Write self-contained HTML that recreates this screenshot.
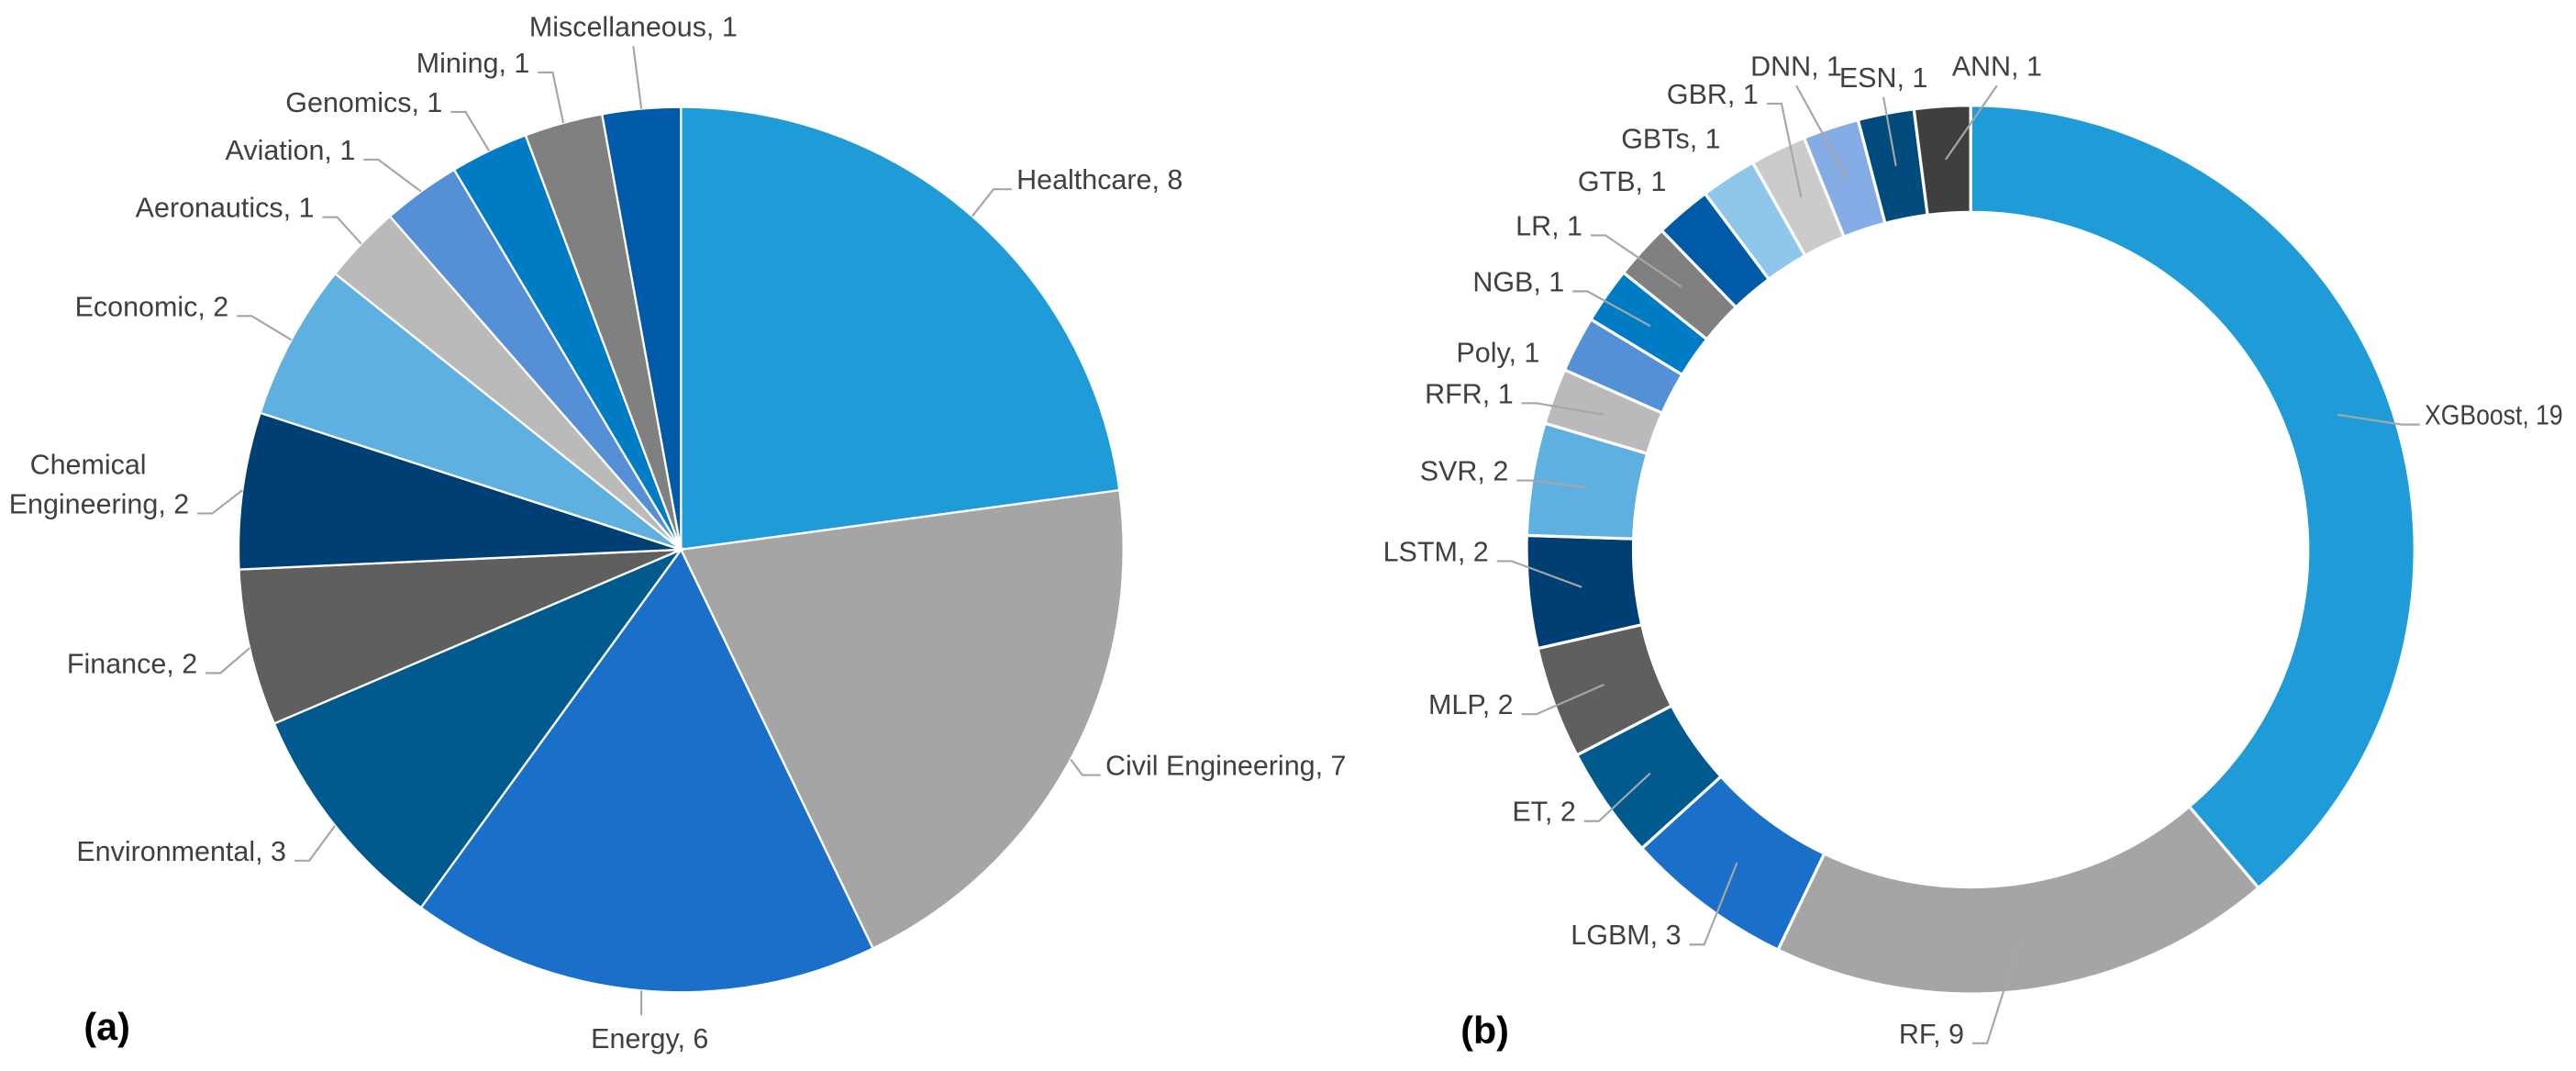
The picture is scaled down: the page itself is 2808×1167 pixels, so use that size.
<!DOCTYPE html>
<html><head><meta charset="utf-8">
<style>
html,body{margin:0;padding:0;background:#fff;}
svg{display:block;font-family:"Liberation Sans",Arial,sans-serif;}
text{font-size:17px;fill:#404040;}
</style></head>
<body>
<svg id="chart" width="2808" height="1167" viewBox="0 0 2808 1167" xmlns="http://www.w3.org/2000/svg">
<g transform="scale(1.7931)">
<g id="pieA"></g>
<g id="pieB"></g>
<text x="51" y="632" style="font-size:23px;font-weight:bold;fill:#000">(a)</text>
<text x="888" y="634" style="font-size:23px;font-weight:bold;fill:#000">(b)</text>
</g>
</svg>
<script>
const catsA = ["Healthcare","Civil Engineering","Energy","Environmental","Finance","Chemical Engineering","Economic","Aeronautics","Aviation","Genomics","Mining","Miscellaneous"];
const valsA = [8,7,6,3,2,2,2,1,1,1,1,1];
const catsB = ["XGBoost","RF","LGBM","ET","MLP","LSTM","SVR","RFR","Poly","NGB","LR","GTB","GBTs","GBR","DNN","ESN","ANN"];
const valsB = [19,9,3,2,2,2,2,1,1,1,1,1,1,1,1,1,1];
const colorsA = ["#1f9bd7","#a5a5a5","#1a70c8","#005a8e","#5f5f5f","#003f73","#5eb0e0","#bababa","#5590d6","#007cc4","#808080","#005aa8"];
const colorsB = ["#1f9bd7","#a5a5a5","#1a70c8","#005a8e","#5f5f5f","#003f73","#5eb0e0","#bababa","#5590d6","#007cc4","#808080","#005aa8","#8fc6ec","#cbcbcb","#86ace6","#004a7c","#3f3f3f"];
// label layout: [textX, textCenterY, anchor, leaderKind, maxWidth]
const layoutA = [[618,109,"start","elbow"],[672,465,"start","elbow"],[395,631,"middle","straight"],[174,517,"end","elbow"],[120,403,"end","elbow"],[115,306,"end","elbow"],[139,186,"end","elbow"],[191,126,"end","elbow"],[216,91,"end","elbow"],[269,62,"end","elbow"],[322,38,"end","elbow"],[385,16,"middle","straight"]];
const layoutB = [[1474,252,"start","elbow",84],[1194,628,"end","elbow"],[1022,568,"end","elbow"],[958,493,"end","elbow"],[920,428,"end","elbow"],[905,335,"end","elbow"],[917,286,"end","elbow"],[920,239,"end","elbow"],[936,214,"end","none"],[951,171,"end","elbow"],[962,137,"end","elbow"],[1013,110,"end","none"],[1046,84,"end","none"],[1069,57,"end","elbow"],[1092,40,"middle","straight"],[1145,47,"middle","straight"],[1214,40,"middle","straight"]];
const NS="http://www.w3.org/2000/svg";
function pt(cx,cy,r,a){return [cx+r*Math.sin(a), cy-r*Math.cos(a)];}
function draw(g, cats, vals, colors, layout, cx, cy, R, r0, prefix){
  const tot=vals.reduce((a,b)=>a+b,0);
  let a=0;
  vals.forEach((v,i)=>{
    const a1=a+v/tot*2*Math.PI;
    const large=(a1-a)>Math.PI?1:0;
    const [x0,y0]=pt(cx,cy,R,a),[x1,y1]=pt(cx,cy,R,a1);
    let d;
    if(r0>0){
      const [x2,y2]=pt(cx,cy,r0,a1),[x3,y3]=pt(cx,cy,r0,a);
      d=`M${x0},${y0}A${R},${R} 0 ${large} 1 ${x1},${y1}L${x2},${y2}A${r0},${r0} 0 ${large} 0 ${x3},${y3}Z`;
    } else {
      d=`M${cx},${cy}L${x0},${y0}A${R},${R} 0 ${large} 1 ${x1},${y1}Z`;
    }
    const p=document.createElementNS(NS,"path");
    p.setAttribute("d",d);p.setAttribute("fill",colors[i]);
    p.setAttribute("stroke","#fff");p.setAttribute("stroke-width",r0>0?"1.8":"1.3");
    
    
    g.appendChild(p);
    const m=(a+a1)/2;
    const rho = r0>0 ? (r0+R)/2 : R;
    const [ex,ey]=pt(cx,cy,rho,m);
    const [tx,ty,anchor,kind,maxW]=layout[i];
    let pts=null;
    if(kind==="elbow"){
      const sy=ty+6;
      const s0 = anchor==="start" ? tx-14 : tx+14;
      const s1 = anchor==="start" ? tx-3 : tx+5;
      pts=`${ex},${ey} ${s0},${sy} ${s1},${sy}`;
    } else if(kind==="straight"){
      const endY = ty < cy ? ty+12 : ty-14;
      const endX = ty < cy ? tx : ex;
      pts=`${ex},${ey} ${endX},${endY}`;
    }
    if(pts){
      const l=document.createElementNS(NS,"polyline");
      l.setAttribute("points",pts);
      l.setAttribute("fill","none");l.setAttribute("stroke","#a6a6a6");l.setAttribute("stroke-width","1.2");
      
      
      g.appendChild(l);
    }
    const t=document.createElementNS(NS,"text");
    t.setAttribute("x",tx);
    t.setAttribute("text-anchor",anchor);
    if(maxW){t.setAttribute("textLength",maxW);t.setAttribute("lengthAdjust","spacingAndGlyphs");}
    if(cats[i]==="Chemical Engineering"){
      const parts=cats[i].split(" ");
      t.setAttribute("y",ty-18);
      const s1=document.createElementNS(NS,"tspan");
      s1.setAttribute("x",tx-26);s1.textContent=parts[0];
      const s2=document.createElementNS(NS,"tspan");
      s2.setAttribute("x",tx);s2.setAttribute("y",ty+6);
      s2.textContent=parts[1]+", "+v;
      t.appendChild(s1);t.appendChild(s2);
    } else {
      t.setAttribute("y",ty+6);
      t.textContent=cats[i]+", "+v;
    }
    
    
    g.appendChild(t);
    a=a1;
  });
}
draw(document.getElementById("pieA"),catsA,valsA,colorsA,layoutA,414,334,269,0,"pie");
draw(document.getElementById("pieB"),catsB,valsB,colorsB,layoutB,1198,334,270,205,"donut");
</script>
</body></html>
